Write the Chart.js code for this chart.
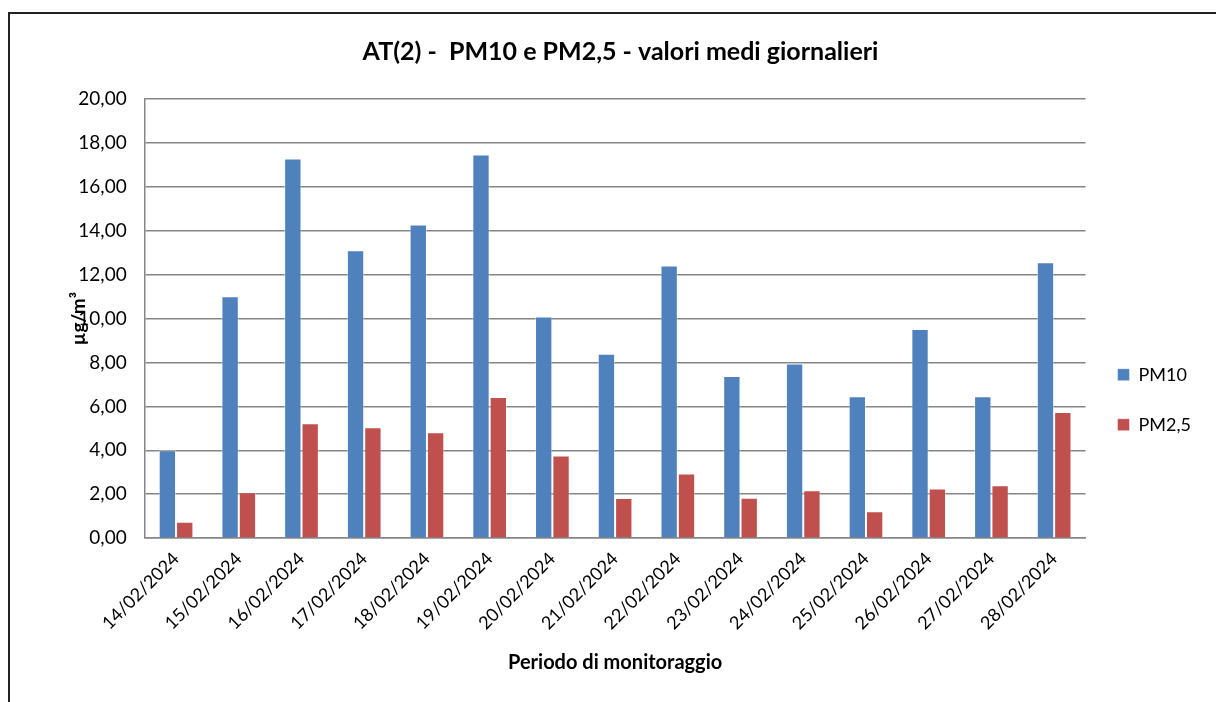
<!DOCTYPE html>
<html>
<head>
    <meta charset="utf-8">
    <title>PM10 e PM2,5</title>
    <script src="https://cdn.jsdelivr.net/npm/chart.js"></script>
    <style>
        body { margin: 0; background: #fff; }
        .frame {
            position: absolute; left: 8px; top: 12px;
            width: 1220px; height: 700px;
            border: 2px solid #222;
        }
        .chart-container {
            position: absolute; left: 0; top: 0;
            width: 1216px; height: 702px;
        }
    </style>
</head>
<body>
    <div class="frame"></div>
    <div class="chart-container">
        <canvas id="chart1"></canvas>
    </div>

    <script>
        const giorni = ['14/02/2024', '15/02/2024', '16/02/2024', '17/02/2024', '18/02/2024',
            '19/02/2024', '20/02/2024', '21/02/2024', '22/02/2024', '23/02/2024',
            '24/02/2024', '25/02/2024', '26/02/2024', '27/02/2024', '28/02/2024'];
        const pm10 = [4.00, 11.02, 17.29, 13.11, 14.28, 17.47, 10.09, 8.40, 12.42, 7.38, 7.96, 6.46, 9.53, 6.46, 12.56];
        const pm25 = [0.75, 2.09, 5.23, 5.05, 4.82, 6.43, 3.77, 1.83, 2.94, 1.84, 2.18, 1.22, 2.26, 2.41, 5.75];

        const FONT = 'Lato, "Open Sans", sans-serif';
        Chart.defaults.font.family = FONT;
        Chart.defaults.color = '#000';

        new Chart(document.getElementById('chart1'), {
            type: 'bar',
            data: {
                labels: giorni,
                datasets: [{
                    label: 'PM10',
                    data: pm10,
                    backgroundColor: '#4F81BD',
                    borderColor: 'rgba(255,255,255,0.45)',
                    borderWidth: 1
                }, {
                    label: 'PM2,5',
                    data: pm25,
                    backgroundColor: '#C0504D',
                    borderColor: 'rgba(255,255,255,0.45)',
                    borderWidth: 1
                }]
            },
            options: {
                responsive: true,
                maintainAspectRatio: false,
                animation: false,
                categoryPercentage: 0.553,
                barPercentage: 1.0,
                layout: { padding: { left: 40, right: 15, top: 0, bottom: 27 } },
                plugins: {
                    tooltip: { enabled: false },
                    title: {
                        display: true,
                        text: 'AT(2) -  PM10 e PM2,5 - valori medi giornalieri',
                        font: { size: 25, weight: 'bold' },
                        padding: { top: 37, bottom: 32 }
                    },
                    legend: {
                        position: 'right',
                        // empty title only pushes the legend items down
                        title: { display: true, text: ' ', padding: { top: 110, bottom: 0 } },
                        labels: {
                            boxWidth: 12,
                            boxHeight: 12,
                            padding: 32,
                            font: { size: 18 }
                        }
                    }
                },
                scales: {
                    x: {
                        grid: { display: false },
                        border: { display: true, color: '#868686', width: 1.5 },
                        ticks: {
                            autoSkip: false,
                            maxRotation: 45,
                            minRotation: 45,
                            padding: 2,
                            font: { size: 18 }
                        },
                        title: {
                            display: true,
                            text: 'Periodo di monitoraggio',
                            font: { size: 20, weight: 'bold' },
                            padding: { top: 15, bottom: 0 }
                        }
                    },
                    y: {
                        min: 0,
                        max: 20,
                        grid: { color: '#868686', lineWidth: 1.5, drawTicks: false },
                        border: { display: true, color: '#868686', width: 1.5 },
                        ticks: {
                            stepSize: 2,
                            padding: 18,
                            font: { size: 19 },
                            callback: v => v.toFixed(2).replace('.', ',')
                        },
                        title: {
                            display: true,
                            text: 'µg/m³',
                            font: { size: 19, weight: 'bold' },
                            padding: { top: 27, bottom: -29.5 }
                        }
                    }
                }
            }
        });
    </script>
</body>
</html>
